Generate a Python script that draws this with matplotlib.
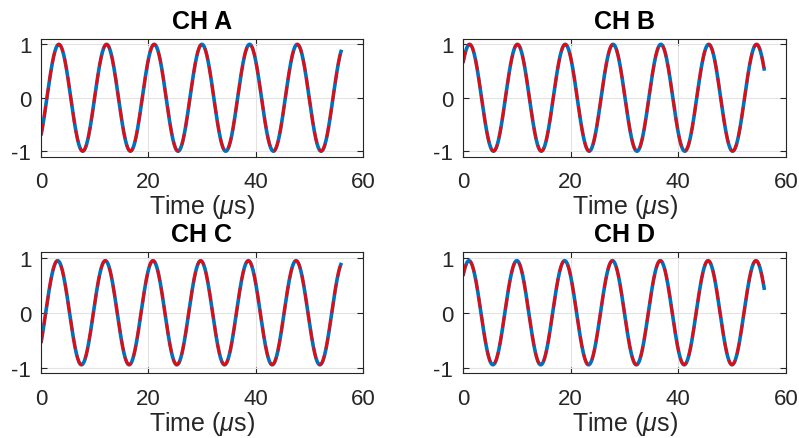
import matplotlib
matplotlib.use('Agg')
import matplotlib.pyplot as plt
import numpy as np

plt.rcParams['font.family'] = ['Liberation Sans', 'DejaVu Sans']
plt.rcParams['mathtext.fontset'] = 'custom'
plt.rcParams['mathtext.it'] = 'Liberation Sans:italic'
plt.rcParams['mathtext.rm'] = 'Liberation Sans'
plt.rcParams['axes.unicode_minus'] = False

# channel data (times in microseconds)
channels = ['CH A', 'CH B', 'CH C', 'CH D']
period_us = 8.885
t_end_us = 56.0
peak_time_us = [3.33, 1.22, 3.10, 1.11]
amplitude = [1.0, 1.0, 0.95, 0.95]
xticks = [0, 20, 40, 60]
yticks = [-1, 0, 1]

# axes boxes in figure fraction [left, bottom, width, height]
boxes = [
    [0.0513, 0.6412, 0.4030, 0.2677],
    [0.5795, 0.6412, 0.4042, 0.2677],
    [0.0513, 0.1481, 0.4030, 0.2745],
    [0.5795, 0.1481, 0.4042, 0.2745],
]

axcol = '#262626'
t = np.linspace(0, t_end_us, 800)

fig = plt.figure(figsize=(7.99, 4.39), dpi=100)
for i, name in enumerate(channels):
    ax = fig.add_axes(boxes[i])
    y = amplitude[i] * np.cos(2 * np.pi * (t - peak_time_us[i]) / period_us)
    ax.plot(t, y, color='#0072BD', lw=2.6, solid_capstyle='butt')
    ax.plot(t, y, color='red', lw=1.9, ls=(0, (4.5, 2.4)))
    ax.set_xlim(0, 60)
    ax.set_ylim(-1.1, 1.1)
    ax.set_xticks(xticks)
    ax.set_yticks(yticks)
    ax.grid(True, color='#e3e3e3', lw=0.8)
    ax.set_axisbelow(True)
    ax.tick_params(direction='in', top=True, right=True, length=4,
                   width=0.8, colors=axcol, labelsize=16)
    ax.tick_params(axis='x', pad=10.5)
    ax.tick_params(axis='y', pad=7)
    for s in ax.spines.values():
        s.set_color(axcol)
        s.set_linewidth(0.8)
    ax.set_title(name, fontsize=18, fontweight='bold', pad=8)
    ax.set_xlabel(r'Time ($\mu$s)', fontsize=18, color=axcol, labelpad=0)

plt.savefig('out.png', dpi=100)
